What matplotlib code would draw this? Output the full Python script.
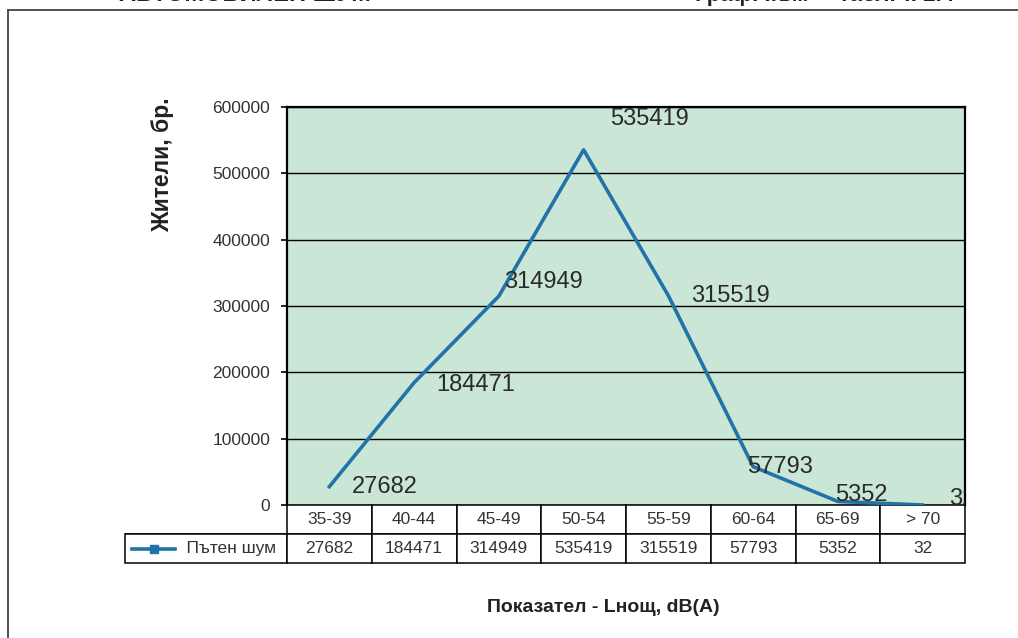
import matplotlib.pyplot as plt
from matplotlib.lines import Line2D

plt.rcParams['font.family'] = ['Liberation Sans', 'DejaVu Sans']

categories = ['35-39', '40-44', '45-49', '50-54', '55-59', '60-64', '65-69', '> 70']
values = [27682, 184471, 314949, 535419, 315519, 57793, 5352, 32]
series_name = 'Пътен шум'
# label offsets in points (dx, dy) as placed in the original
label_offsets = [(16, 0), (16, -2), (4, 10), (19, 22), (16, 0), (-4, 0), (-2, 5), (19, 4)]

line_color = '#2273a8'
bg_color = '#c9e6d6'

fig = plt.figure(figsize=(10.18, 6.38), dpi=100)
W, H = 1018, 638
ax = fig.add_axes([287 / W, 1 - 505 / H, 678 / W, 398 / H])
ax.set_facecolor(bg_color)

x = list(range(len(categories)))
ax.plot(x, values, color=line_color, lw=2.6, zorder=3)
ax.set_xlim(-0.5, len(categories) - 0.5)
ax.set_ylim(0, 600000)
ax.set_yticks(range(0, 600001, 100000))
ax.set_yticklabels([str(v) for v in range(0, 600001, 100000)], fontsize=12.5, color='#333333')
ax.set_xticks([])
ax.tick_params(axis='y', direction='out', length=4, width=1.2, color='black', pad=8)
ax.grid(axis='y', color='black', lw=1.0)
ax.set_axisbelow(True)
for s in ['left', 'top', 'right']:
    ax.spines[s].set_linewidth(1.6)
ax.spines['bottom'].set_visible(False)

for xi, v, (dx, dy) in zip(x, values, label_offsets):
    ax.annotate(str(v), (xi, v), xytext=(dx, dy), textcoords='offset points',
                ha='left', va='center', fontsize=17, color='#2a2a2a',
                annotation_clip=False, clip_on=True, zorder=4)

# data table under the plot
col_w = [162] + [678 / len(categories)] * len(categories)
tot = sum(col_w)
cell_text = [[''] + categories, ['            ' + series_name] + [str(v) for v in values]]
tbl = ax.table(cellText=cell_text, colWidths=[c / tot for c in col_w],
               cellLoc='center', bbox=[-162 / 678, -58 / 398, tot / 678, 58 / 398])
tbl.auto_set_font_size(False)
tbl.set_fontsize(12.5)
for (r, c), cell in tbl.get_celld().items():
    cell.set_linewidth(1.1)
    cell.set_facecolor('white')
    cell.get_text().set_color('#333333')
    if r == 0 and c == 0:
        cell.visible_edges = 'B'
    if r == 1 and c == 0:
        cell.get_text().set_ha('left')
        cell.PAD = 0.02

# legend glyph inside the first table cell
ax.add_line(Line2D([-155 / 678, -112 / 678], [-44 / 398, -44 / 398], transform=ax.transAxes,
                   color=line_color, lw=2.6, clip_on=False))
ax.plot([-133 / 678], [-44 / 398], transform=ax.transAxes, marker='s', markersize=6,
        color=line_color, clip_on=False)

fig.text(163 / W, 1 - 165 / H, 'Жители, бр.', rotation=90, ha='center', va='center',
         fontsize=16.5, fontweight='bold', color='#222222')
fig.text(603 / W, 1 - 608 / H, 'Показател - Lнощ, dB(A)', ha='center', va='center',
         fontsize=14, fontweight='bold', color='#222222')

# clipped page header and frame of the scanned page
fig.text(245 / W, 1 - 6 / H, 'АВТОМОБИЛЕН ШУМ', ha='center', va='bottom',
         fontsize=17, fontweight='bold', color='#222222')
fig.text(825 / W, 1 - 6 / H, 'Граф. към     табл. т. 2.4', ha='center', va='bottom',
         fontsize=16, fontweight='bold', color='#222222')
fig.add_artist(Line2D([8 / W, 1], [1 - 10 / H, 1 - 10 / H], color='#444444', lw=1.3))
fig.add_artist(Line2D([8 / W, 8 / W], [0, 1 - 10 / H], color='#444444', lw=1.3))

fig.savefig('out.png', dpi=100)
